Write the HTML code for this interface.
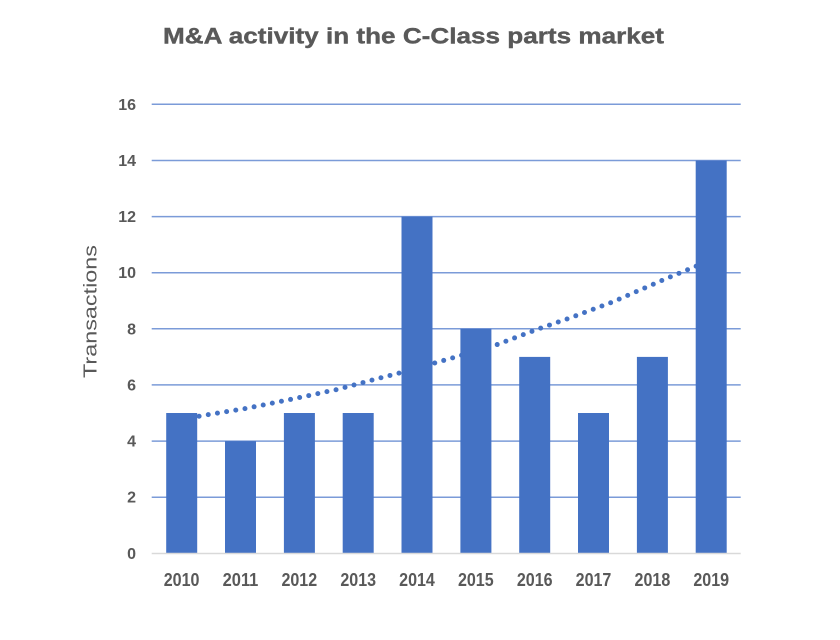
<!DOCTYPE html>
<html>
<head>
<meta charset="utf-8">
<style>
  html, body { margin: 0; padding: 0; background: #ffffff; }
  svg { display: block; }
  text { font-family: "Liberation Sans", Arial, sans-serif; fill: #595959; }
</style>
</head>
<body>
<svg width="840" height="640" viewBox="0 0 840 640" xmlns="http://www.w3.org/2000/svg">
  <rect x="0" y="0" width="840" height="640" fill="#ffffff"/>

  <!-- Title -->
  <text x="413.5" y="43.5" font-size="22.5" font-weight="bold" text-anchor="middle" textLength="501" lengthAdjust="spacingAndGlyphs" stroke="#595959" stroke-width="0.4">M&amp;A activity in the C-Class parts market</text>

  <!-- Gridlines -->
  <g stroke="#7B9BD8" stroke-width="1.5">
    <line x1="151.7" y1="104.3" x2="740.7" y2="104.3"/>
    <line x1="151.7" y1="160.5" x2="740.7" y2="160.5"/>
    <line x1="151.7" y1="216.6" x2="740.7" y2="216.6"/>
    <line x1="151.7" y1="272.7" x2="740.7" y2="272.7"/>
    <line x1="151.7" y1="328.8" x2="740.7" y2="328.8"/>
    <line x1="151.7" y1="384.9" x2="740.7" y2="384.9"/>
    <line x1="151.7" y1="441.1" x2="740.7" y2="441.1"/>
    <line x1="151.7" y1="497.2" x2="740.7" y2="497.2"/>
  </g>

  <!-- Trendline (behind bars) -->
  <polyline fill="none" stroke="#4472C4" stroke-width="5" stroke-linecap="round" stroke-dasharray="0 9.3"
    points="181,420.5 200,416 246.7,408.3 292.7,399 338,389.3 380,378 398.3,373.3 453.3,357.7 496,345 537.3,329.3 570.7,317.7 612.7,302 637.7,291 669.3,277.3 695,266.7 711,259.5"/>

  <!-- Bars -->
  <g fill="#4472C4">
    <rect x="166.2" y="413.0" width="31" height="140.3"/>
    <rect x="225.0" y="441.1" width="31" height="112.2"/>
    <rect x="283.9" y="413.0" width="31" height="140.3"/>
    <rect x="342.7" y="413.0" width="31" height="140.3"/>
    <rect x="401.5" y="216.6" width="31" height="336.7"/>
    <rect x="460.4" y="328.8" width="31" height="224.5"/>
    <rect x="519.2" y="356.9" width="31" height="196.4"/>
    <rect x="578.0" y="413.0" width="31" height="140.3"/>
    <rect x="636.9" y="356.9" width="31" height="196.4"/>
    <rect x="695.7" y="160.5" width="31" height="392.8"/>
  </g>

  <!-- X axis line -->
  <line x1="151.7" y1="553.5" x2="740.7" y2="553.5" stroke="#D9D9D9" stroke-width="1.5"/>

  <!-- Y tick labels -->
  <g font-size="16" font-weight="bold" text-anchor="end">
    <text x="136" y="109.8">16</text>
    <text x="136" y="166.0">14</text>
    <text x="136" y="222.1">12</text>
    <text x="136" y="278.2">10</text>
    <text x="136" y="334.3">8</text>
    <text x="136" y="390.4">6</text>
    <text x="136" y="446.6">4</text>
    <text x="136" y="502.7">2</text>
    <text x="136" y="558.8">0</text>
  </g>

  <!-- X tick labels -->
  <g font-size="18" font-weight="bold" text-anchor="middle">
    <text x="181.6" y="585.9" textLength="35.7" lengthAdjust="spacingAndGlyphs">2010</text>
    <text x="240.5" y="585.9" textLength="35.7" lengthAdjust="spacingAndGlyphs">2011</text>
    <text x="299.3" y="585.9" textLength="35.7" lengthAdjust="spacingAndGlyphs">2012</text>
    <text x="358.2" y="585.9" textLength="35.7" lengthAdjust="spacingAndGlyphs">2013</text>
    <text x="417.0" y="585.9" textLength="35.7" lengthAdjust="spacingAndGlyphs">2014</text>
    <text x="475.8" y="585.9" textLength="35.7" lengthAdjust="spacingAndGlyphs">2015</text>
    <text x="534.7" y="585.9" textLength="35.7" lengthAdjust="spacingAndGlyphs">2016</text>
    <text x="593.5" y="585.9" textLength="35.7" lengthAdjust="spacingAndGlyphs">2017</text>
    <text x="652.4" y="585.9" textLength="35.7" lengthAdjust="spacingAndGlyphs">2018</text>
    <text x="711.2" y="585.9" textLength="35.7" lengthAdjust="spacingAndGlyphs">2019</text>
  </g>

  <!-- Y axis title -->
  <text transform="translate(96.5,311.5) rotate(-90)" x="0" y="0" font-size="18" text-anchor="middle" textLength="133" lengthAdjust="spacingAndGlyphs">Transactions</text>
</svg>
</body>
</html>
